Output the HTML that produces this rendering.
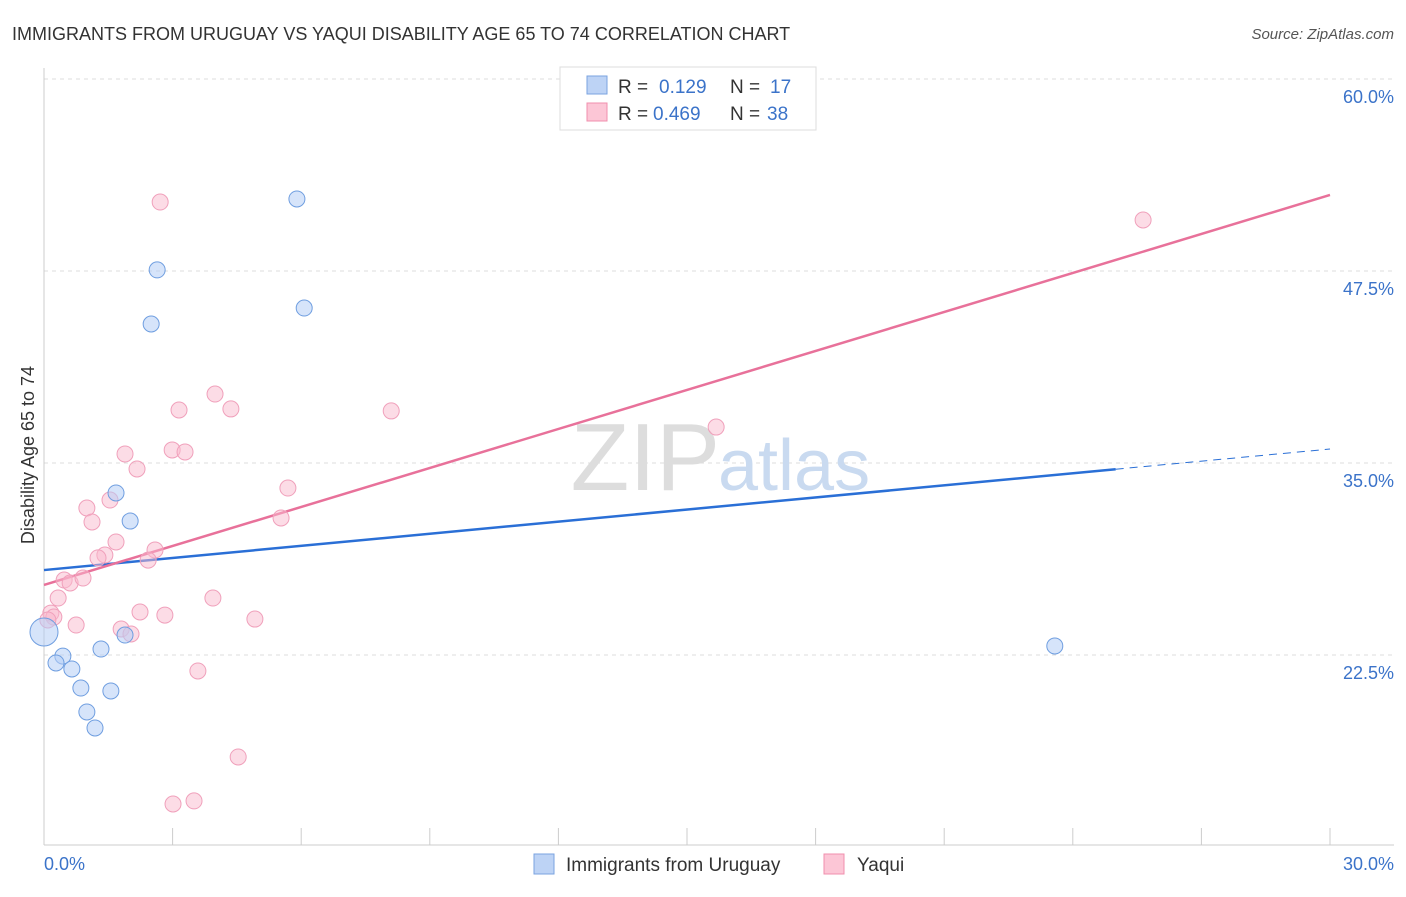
<!DOCTYPE html>
<html><head><meta charset="utf-8"><style>
body{margin:0;background:#fff;font-family:"Liberation Sans",sans-serif;}
svg text{font-family:"Liberation Sans",sans-serif;}
</style></head><body>
<svg id="chart" width="1406" height="892">
<text x="12" y="40" font-size="18" fill="#333">IMMIGRANTS FROM URUGUAY VS YAQUI DISABILITY AGE 65 TO 74 CORRELATION CHART</text>
<text x="1394" y="39" font-size="15" fill="#555" text-anchor="end" font-style="italic">Source: ZipAtlas.com</text>
<g id="grid"></g>
<text x="720" y="490" font-size="96" fill="#ddd" text-anchor="end" font-family="Liberation Serif">ZIP</text>
<text x="718" y="490" font-size="72" fill="#c9daf0">atlas</text>
<g id="lines"></g>
<g id="points"></g>
<text transform="translate(34,455) rotate(-90)" font-size="18" fill="#333" text-anchor="middle">Disability Age 65 to 74</text>
<text x="44" y="870" font-size="18" fill="#3b73c9">0.0%</text>
<text x="1394" y="870" font-size="18" fill="#3b73c9" text-anchor="end">30.0%</text>
<g>
<rect x="560" y="67" width="256" height="63" fill="#fff" stroke="#ddd"/>
<rect x="587" y="76" width="20" height="18" fill="#bdd3f5" stroke="#7aa3e0"/>
<rect x="587" y="103" width="20" height="18" fill="#fcc6d6" stroke="#f08fad"/>
<text x="618" y="93" font-size="19" fill="#333">R =</text>
<text x="659" y="93" font-size="19" fill="#3b73c9">0.129</text>
<text x="730" y="93" font-size="19" fill="#333">N =</text>
<text x="770" y="93" font-size="19" fill="#3b73c9">17</text>
<text x="618" y="120" font-size="19" fill="#333">R =</text>
<text x="653" y="120" font-size="19" fill="#3b73c9">0.469</text>
<text x="730" y="120" font-size="19" fill="#333">N =</text>
<text x="767" y="120" font-size="19" fill="#3b73c9">38</text>
</g>
<g>
<rect x="534" y="854" width="20" height="20" fill="#bdd3f5" stroke="#7aa3e0"/>
<text x="566" y="871" font-size="19" fill="#333">Immigrants from Uruguay</text>
<rect x="824" y="854" width="20" height="20" fill="#fcc6d6" stroke="#f08fad"/>
<text x="857" y="871" font-size="19" fill="#333">Yaqui</text>
</g>
</svg>
<script>
const yTicks=[22.5,35.0,47.5,60.0];
const xTickCount=10;
const blueX=[5.90,2.64,2.50,6.07,1.68,2.01,0.0,0.44,0.28,0.65,1.33,1.89,0.86,1.56,1.00,1.19,23.58];
const blueY=[52.19,47.57,44.05,45.09,33.05,31.22,24.0,22.43,21.98,21.59,22.89,23.80,20.35,20.16,18.79,17.75,23.09];
const blueR=[8,8,8,8,8,8,14,8,8,8,8,8,8,8,8,8,8];
const pinkX=[2.71,25.64,3.99,4.36,3.15,8.10,15.68,2.99,3.29,1.89,2.17,5.69,1.54,1.00,1.12,1.68,2.59,1.42,1.26,2.43,5.53,0.47,0.61,0.91,0.33,3.94,0.16,0.23,2.24,2.82,0.09,0.75,1.80,2.03,4.92,3.59,4.53,3.01,3.50];
const pinkY=[51.99,50.82,39.49,38.52,38.45,38.39,37.34,35.85,35.72,35.59,34.61,33.37,32.59,32.07,31.16,29.86,29.34,29.01,28.82,28.68,31.42,27.38,27.19,27.51,26.21,26.21,25.23,24.97,25.30,25.10,24.78,24.45,24.19,23.87,24.84,21.46,15.86,12.80,13.00];
const blueTrend=[28.03,35.91];
const pinkTrend=[27.06,52.45];
const blueSolidEnd=25.0;
const NS='http://www.w3.org/2000/svg';
const X=v=>44+v/30*1286;
const Y=v=>463-(v-35)*15.36;
function mk(t,a,p){const e=document.createElementNS(NS,t);for(const k in a)e.setAttribute(k,a[k]);p.appendChild(e);return e;}
const grid=document.getElementById('grid');
yTicks.forEach(t=>{
 const l=mk('line',{x1:44,x2:1394,y1:Y(t),y2:Y(t),stroke:'#ddd','stroke-dasharray':'4,4'},grid);
 
 
 const tx=mk('text',{x:1394,y:Y(t)+24,'font-size':18,fill:'#3b73c9','text-anchor':'end'},grid);
 tx.textContent=t.toFixed(1)+'%';
 
 
});
const ax=mk('line',{x1:44,x2:1394,y1:845,y2:845,stroke:'#ccc'},grid);


const ay=mk('line',{x1:44,x2:44,y1:68,y2:845,stroke:'#ccc'},grid);


for(let i=0;i<=xTickCount;i++){
 const v=i*30/xTickCount;
 const t=mk('line',{x1:X(v),x2:X(v),y1:828,y2:845,stroke:'#ccc'},grid);
 
 
}
const lines=document.getElementById('lines');
const bf=v=>blueTrend[0]+(blueTrend[1]-blueTrend[0])*v/30;
const pf=v=>pinkTrend[0]+(pinkTrend[1]-pinkTrend[0])*v/30;
const b1=mk('line',{x1:X(0),y1:Y(bf(0)),x2:X(blueSolidEnd),y2:Y(bf(blueSolidEnd)),stroke:'#2a6fd6','stroke-width':2.5},lines);


const b2=mk('line',{x1:X(blueSolidEnd),y1:Y(bf(blueSolidEnd)),x2:X(30),y2:Y(bf(30)),stroke:'#2a6fd6','stroke-width':1,'stroke-dasharray':'8,6'},lines);


const p1=mk('line',{x1:X(0),y1:Y(pf(0)),x2:X(30),y2:Y(pf(30)),stroke:'#e8719a','stroke-width':2.5},lines);


const pts=document.getElementById('points');
pinkX.forEach((x,i)=>{
 const c=mk('circle',{cx:X(x),cy:Y(pinkY[i]),r:8,fill:'rgba(250,185,205,0.5)',stroke:'#f0a0bb','stroke-width':1},pts);
 
 
});
blueX.forEach((x,i)=>{
 const c=mk('circle',{cx:X(x),cy:Y(blueY[i]),r:blueR[i],fill:'rgba(180,205,245,0.55)',stroke:'#6f9ee0','stroke-width':1},pts);
 
 
});
</script>
</body></html>
